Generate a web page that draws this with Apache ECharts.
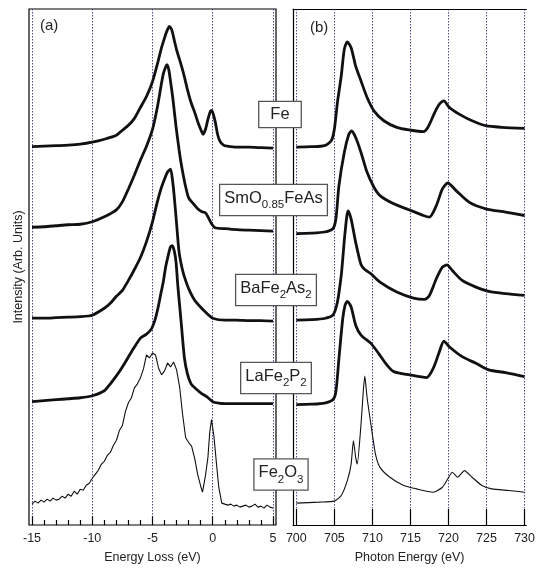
<!DOCTYPE html>
<html>
<head>
<meta charset="utf-8">
<script src="https://cdn.jsdelivr.net/npm/echarts@6/dist/echarts.min.js"></script>
<style>
html,body{margin:0;padding:0;background:#fff;}
#chart{width:538px;height:569px;}
</style>
</head>
<body>
<div id="chart"></div>
<script>
// ---------- DATA ----------
// Panel (a): energy-loss spectra, [energy loss (eV), intensity above own baseline]
const lossFe = [[-15,0.05],[-14,0.1],[-13,0.15],[-12,0.2],[-11,0.3],[-10,0.5],[-9,0.8],[-8,1.2],[-7.5,1.7],[-7,2.2],[-6.5,2.9],[-6,4.0],[-5.5,5.1],[-5,6.6],[-4.5,8.8],[-4.3,9.8],[-4,11.0],[-3.8,11.7],[-3.6,12.15],[-3.4,11.8],[-3.2,10.8],[-3,9.8],[-2.7,8.6],[-2.4,7.3],[-2.1,5.8],[-1.8,4.5],[-1.5,3.5],[-1.2,2.4],[-0.9,1.5],[-0.8,1.3],[-0.6,1.8],[-0.4,2.8],[-0.2,3.6],[-0.1,3.7],[0,3.5],[0.2,2.6],[0.4,1.3],[0.6,0.6],[0.9,0.2],[1.2,0.1],[2,0],[3,0],[4,-0.05],[5,-0.1]];
const lossSm = [[-15,0.15],[-14,0.2],[-13,0.3],[-12,0.4],[-11,0.45],[-10,0.7],[-9,1.2],[-8,1.9],[-7.5,2.7],[-7,4.0],[-6.5,5.4],[-6,6.9],[-5.5,8.3],[-5,10.0],[-4.6,12.2],[-4.3,14.3],[-4.1,15.6],[-3.9,16.3],[-3.8,16.5],[-3.65,16.0],[-3.5,14.8],[-3.3,13.0],[-3.05,10.3],[-2.8,8.0],[-2.6,6.4],[-2.3,4.5],[-2.0,3.1],[-1.6,2.5],[-1.25,2.0],[-0.9,1.7],[-0.6,1.6],[-0.4,1.2],[-0.1,0.5],[0.2,0.1],[1,0],[2,-0.1],[3,-0.15],[4,-0.2],[5,-0.25]];
const lossBa = [[-15,0.1],[-14,0.1],[-13,0.15],[-12,0.2],[-11,0.25],[-10,0.4],[-9,1.1],[-8.5,1.6],[-8,2.3],[-7.5,2.9],[-7,3.9],[-6.5,5.0],[-6,6.2],[-5.5,7.8],[-5,9.8],[-4.6,11.8],[-4.3,13.1],[-4.0,14.1],[-3.75,14.8],[-3.5,15.1],[-3.35,14.1],[-3.2,12.4],[-3.0,9.6],[-2.8,6.8],[-2.5,4.9],[-2.2,3.7],[-1.9,2.8],[-1.5,1.9],[-1.0,1.2],[-0.5,0.6],[0,0.1],[1,-0.1],[2,-0.1],[3,-0.15],[4,-0.15],[5,-0.2]];
const lossLa = [[-15,0.2],[-14,0.3],[-13,0.4],[-12,0.5],[-11,0.6],[-10,0.8],[-9,1.3],[-8.5,2.0],[-8,2.8],[-7.5,3.7],[-7,4.7],[-6.5,5.7],[-6,6.6],[-5.5,7.0],[-5.1,7.5],[-4.8,8.4],[-4.55,9.6],[-4.3,11.1],[-4.1,12.3],[-3.9,13.8],[-3.7,14.9],[-3.5,15.8],[-3.35,15.9],[-3.2,15.4],[-3.05,14.3],[-2.9,11.9],[-2.75,9.9],[-2.6,7.9],[-2.35,4.6],[-2.1,3.0],[-1.8,2.0],[-1.4,1.5],[-1.0,1.1],[-0.5,0.7],[0,0.2],[0.5,0.05],[1,0],[3,0],[5,0]];
const lossFe2O3 = [[-15,0.2],[-14.75,0.5],[-14.5,0.3],[-14.25,0.6],[-14,0.4],[-13.75,0.7],[-13.5,0.5],[-13.25,0.8],[-13,0.6],[-12.75,0.7],[-12.5,1.0],[-12.25,0.8],[-12,1.2],[-11.75,1.0],[-11.5,1.5],[-11.25,1.2],[-11,1.7],[-10.75,1.6],[-10.5,2.1],[-10.25,2.3],[-10,2.8],[-9.75,3.2],[-9.5,3.6],[-9.25,4.2],[-9,4.5],[-8.75,5.1],[-8.5,5.4],[-8.25,6.1],[-8,6.6],[-7.75,7.6],[-7.5,8.1],[-7.25,9.5],[-7,10.4],[-6.75,10.9],[-6.5,11.9],[-6.25,12.3],[-6,12.9],[-5.75,13.8],[-5.5,15.2],[-5.25,14.9],[-5,15.4],[-4.75,15.2],[-4.5,13.9],[-4.25,13.2],[-4,13.6],[-3.75,14.4],[-3.5,14.0],[-3.25,14.5],[-3,13.7],[-2.75,12.0],[-2.5,9.2],[-2.25,6.9],[-2,6.4],[-1.75,6.0],[-1.5,4.8],[-1.25,3.2],[-1,2.0],[-0.85,1.4],[-0.6,3.1],[-0.4,4.9],[-0.25,7.4],[-0.1,8.7],[0.1,7.0],[0.3,4.4],[0.5,1.9],[0.75,0.3],[1,0.2],[1.25,0.1],[1.5,0.2],[1.75,0.0],[2,0.1],[2.25,-0.1],[2.5,0.0],[2.75,0.1],[3,-0.1],[3.25,0.0],[3.5,0.2],[3.75,-0.1],[4,0.0],[4.25,-0.2],[4.5,0.1],[4.75,-0.1],[5,-0.2]];

// Panel (b): absorption spectra, [photon energy (eV), intensity above own baseline]
const xasFe = [[700,0],[702,0.05],[703.7,0.16],[704.6,0.66],[705.0,1.83],[705.4,4.5],[705.9,7.16],[706.3,9.83],[706.7,10.6],[707.2,10.0],[707.8,8.16],[708.5,6.66],[709.3,5.0],[710.2,3.66],[711.5,2.66],[713.2,2.0],[714.9,1.73],[716.7,1.56],[717.3,2.0],[718.2,3.5],[718.8,4.33],[719.4,4.66],[720.1,4.0],[721.4,3.33],[723.1,2.66],[724.9,2.16],[727.0,2.0],[730,1.9]];
const xasSm = [[700,0],[702,0.05],[703.7,0.17],[704.8,0.5],[705.2,1.5],[705.6,4.83],[706.3,8.17],[706.9,10.0],[707.25,10.33],[707.8,9.67],[708.5,8.17],[709.3,6.17],[710.2,4.67],[711.0,3.83],[712.8,3.0],[714.5,2.5],[716.7,1.83],[717.5,1.67],[718.4,2.83],[719.2,4.5],[719.9,5.1],[721.0,4.33],[722.7,3.17],[724.9,2.5],[727.5,2.17],[730,1.83]];
const xasBa = [[700,0],[702,0.05],[703.7,0.17],[704.8,0.5],[705.4,1.83],[705.9,4.5],[706.1,6.17],[706.4,8.8],[706.8,11.0],[707.2,10.17],[707.8,7.83],[708.5,5.6],[709.0,5.1],[709.8,4.67],[711.0,3.83],[713.2,2.83],[715.4,2.23],[716.9,2.1],[717.5,2.5],[718.4,4.17],[719.2,5.33],[719.8,5.57],[720.5,5.0],[721.8,4.0],[723.6,3.33],[725.3,2.9],[727.5,2.67],[730,2.5]];
const xasLa = [[700,0],[702,0.05],[703.7,0.17],[704.8,0.5],[705.2,1.33],[705.6,4.67],[706.1,8.67],[706.4,10.0],[706.7,10.4],[707.2,9.83],[707.8,8.0],[708.5,7.0],[709.8,6.17],[710.8,5.17],[711.9,4.0],[712.8,3.33],[714.9,3.0],[717.1,2.73],[718.0,3.67],[718.8,5.33],[719.4,6.4],[720.1,5.83],[721.8,4.83],[723.6,4.17],[725.3,3.5],[727.5,3.23],[730,2.83]];
const xasFe2O3 = [[700,0],[703,0.1],[705,0.2],[705.9,0.77],[706.7,2.27],[707.2,3.93],[707.5,6.27],[707.8,4.6],[708.0,3.93],[708.5,7.93],[708.8,11.27],[709.0,12.77],[709.3,10.6],[709.8,7.93],[710.4,4.93],[711.0,3.6],[712.3,2.6],[714.1,1.77],[715.8,1.43],[718.0,1.1],[719.2,1.6],[719.9,2.43],[720.5,3.1],[721.2,2.6],[722.1,3.27],[723.1,2.6],[724.4,1.77],[725.7,1.43],[727.9,1.27],[730,1.1]];

// vertical offsets of each spectrum (stacking)
const lossOffsets = [38.0, 29.8, 20.7, 12.2, 1.9];
const xasOffsets  = [38.0, 29.3, 20.6, 12.1, 2.2];

// axis ticks
const lossMajorTicks = [-15, -10, -5, 0, 5];
const lossMinorTicks = [-14,-13,-12,-11,-9,-8,-7,-6,-4,-3,-2,-1,1,2,3,4];
const xasMajorTicks = [700, 705, 710, 715, 720, 725, 730];

// sample labels (rich text)
const sampleLabels = [
  '{m|Fe}',
  '{m|SmO}{s|0.85}{m|FeAs}',
  '{m|BaFe}{s|2}{m|As}{s|2}',
  '{m|LaFe}{s|2}{m|P}{s|2}',
  '{m|Fe}{s|2}{m|O}{s|3}'
];

// ---------- CHART ----------
const FONT = '"Liberation Sans", Arial, Helvetica, sans-serif';
const lossSets = [lossFe, lossSm, lossBa, lossLa, lossFe2O3];
const xasSets = [xasFe, xasSm, xasBa, xasLa, xasFe2O3];
const gridLine = {show: true, lineStyle: {color: '#4646c8', type: [1.5, 1.5], width: 1}};

const series = [];
lossSets.forEach((d, i) => {
  const thin = i === 4;
  series.push({
    type: 'line', xAxisIndex: 0, yAxisIndex: 0, showSymbol: false, silent: true,
    smooth: thin ? false : 0.2,
    lineStyle: {color: '#111', width: thin ? 1.1 : 2.8},
    data: d.map(p => [p[0], p[1] + lossOffsets[i]])
  });
});
xasSets.forEach((d, i) => {
  const thin = i === 4;
  series.push({
    type: 'line', xAxisIndex: 2, yAxisIndex: 1, showSymbol: false, silent: true,
    smooth: thin ? 0.2 : 0.25,
    lineStyle: {color: '#111', width: thin ? 1.1 : 2.8},
    data: d.map(p => [p[0], p[1] + xasOffsets[i]])
  });
});

const labelPos = [[280, 114.5], [273.5, 200], [276, 290], [276, 378], [281, 474.5]];
const graphics = sampleLabels.map((t, i) => ({
  type: 'text', x: labelPos[i][0], y: labelPos[i][1], z: 100,
  style: {
    text: t, align: 'center', verticalAlign: 'middle',
    backgroundColor: '#fff', borderColor: '#555', borderWidth: 1.3,
    padding: i === 0 ? [2, 11, 3, 11] : [3, 4, 7, 4],
    rich: {
      m: {fontSize: 16.5, lineHeight: 20, fontFamily: FONT, fill: '#222'},
      s: {fontSize: 11.5, lineHeight: 6, height: 6, verticalAlign: 'bottom', fontFamily: FONT, fill: '#222'}
    }
  }
}));
graphics.push({type: 'text', x: 40, y: 18, style: {text: '(a)', fontSize: 15, fontFamily: FONT, fill: '#222'}});
graphics.push({type: 'text', x: 310, y: 20, style: {text: '(b)', fontSize: 15, fontFamily: FONT, fill: '#222'}});

const option = {
  animation: false,
  backgroundColor: '#fff',
  textStyle: {fontFamily: FONT},
  grid: [
    {left: 29, right: 262, top: 9, bottom: 41, show: true, borderColor: '#000', borderWidth: 1.2, backgroundColor: 'transparent'},
    {left: 293, right: 8, top: 9, bottom: 41}
  ],
  xAxis: [
    {
      gridIndex: 0, type: 'value', min: -15.25, max: 5.25, position: 'bottom',
      axisLine: {show: false},
      axisTick: {show: true, inside: true, length: 9, customValues: lossMajorTicks, lineStyle: {color: '#000', width: 1.2}},
      axisLabel: {customValues: lossMajorTicks, margin: 7, fontSize: 12.5, color: '#222', fontFamily: FONT},
      splitLine: gridLine,
      name: 'Energy Loss (eV)', nameLocation: 'middle', nameGap: 26,
      nameTextStyle: {fontSize: 12.5, color: '#222', fontFamily: FONT}
    },
    {
      gridIndex: 0, type: 'value', min: -15.25, max: 5.25, position: 'bottom',
      axisLine: {show: false},
      axisTick: {show: true, inside: true, length: 5, customValues: lossMinorTicks, lineStyle: {color: '#000', width: 1.2}},
      axisLabel: {show: false}, splitLine: {show: false}
    },
    {
      gridIndex: 1, type: 'value', min: 699.56, max: 730.22, position: 'bottom',
      axisLine: {show: true, lineStyle: {color: '#000', width: 1.2}},
      axisTick: {show: true, inside: true, length: 16, customValues: xasMajorTicks, lineStyle: {color: '#000', width: 1.2}},
      axisLabel: {customValues: xasMajorTicks, margin: 7, fontSize: 12.5, color: '#222', fontFamily: FONT},
      splitLine: gridLine,
      name: 'Photon Energy (eV)', nameLocation: 'middle', nameGap: 26,
      nameTextStyle: {fontSize: 12.5, color: '#222', fontFamily: FONT}
    },
    {
      gridIndex: 1, type: 'value', min: 699.56, max: 730.22, position: 'top',
      axisLine: {show: true, lineStyle: {color: '#000', width: 1.2}},
      axisTick: {show: false}, axisLabel: {show: false}, splitLine: {show: false}
    }
  ],
  yAxis: [
    {
      gridIndex: 0, type: 'value', min: 0, max: 51.9,
      axisLine: {show: false}, axisTick: {show: false}, axisLabel: {show: false}, splitLine: {show: false},
      name: 'Intensity (Arb. Units)', nameLocation: 'middle', nameGap: 4,
      nameTextStyle: {fontSize: 12.5, color: '#222', fontFamily: FONT}
    },
    {
      gridIndex: 1, type: 'value', min: 0, max: 51.9,
      axisLine: {show: true, lineStyle: {color: '#000', width: 1.2}},
      axisTick: {show: false}, axisLabel: {show: false}, splitLine: {show: false}
    }
  ],
  series: series,
  graphic: graphics
};

const chart = echarts.init(document.getElementById('chart'), null, {renderer: 'canvas'});
chart.setOption(option);
</script>
</body>
</html>
